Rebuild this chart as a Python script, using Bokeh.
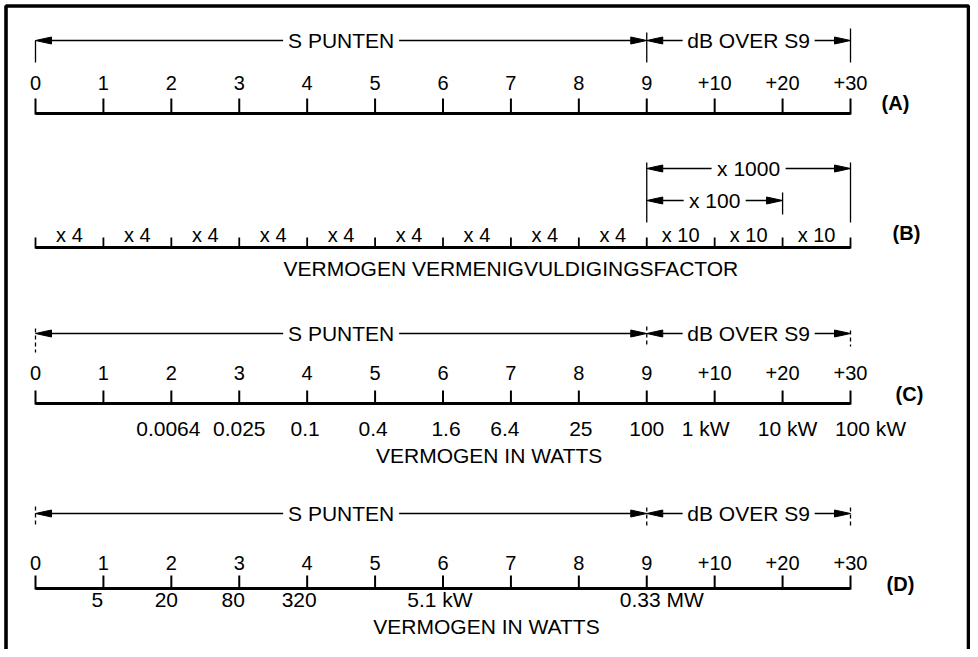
from bokeh.plotting import figure
from bokeh.models import ColumnDataSource, Range1d
from bokeh.core.properties import value
from bokeh.embed import file_html
from bokeh.resources import INLINE

# ---------------- data ----------------
S_STEPS = [0, 1, 2, 3, 4, 5, 6, 7, 8, 9, 10, 11, 12]
S_LABELS = ["0", "1", "2", "3", "4", "5", "6", "7", "8", "9", "+10", "+20", "+30"]
B_FACTORS = ["x 4", "x 4", "x 4", "x 4", "x 4", "x 4", "x 4", "x 4", "x 4",
             "x 10", "x 10", "x 10"]
C_WATT_STEPS = [2, 3, 4, 5, 6, 7, 8, 9, 10, 11, 12]
C_WATTS = ["0.0064", "0.025", "0.1", "0.4", "1.6", "6.4", "25", "100",
           "1 kW", "10 kW", "100 kW"]
D_WATT_STEPS = [1, 2, 3, 4, 6, 9]
D_WATTS = ["5", "20", "80", "320", "5.1 kW", "0.33 MW"]
S_SPAN = ("S PUNTEN", 0, 9)
DB_SPAN = ("dB OVER S9", 9, 12)
B_BRACKETS = [("x 1000", 9, 12), ("x 100", 9, 11)]
PANEL_TAGS = ["(A)", "(B)", "(C)", "(D)"]
CAPTION_B = "VERMOGEN VERMENIGVULDIGINGSFACTOR"
CAPTION_W = "VERMOGEN IN WATTS"

# ---------------- layout / style ----------------
FONT = "Liberation Sans"
W, H = 970, 649
PX0, PXS = 35.0, 67.917  # figure x of step 0, pixels per step
HL, HW = 16.0, 3.5       # arrow head length / half width (px)
F_LAB, F_NUM, F_CAP, F_TAG = "21px", "20px", "21px", "20px"


def px(d):
    return d / PXS


p = figure(width=W, height=H,
           x_range=Range1d(-PX0 / PXS, (W - PX0) / PXS),
           y_range=Range1d(H, 0),
           x_axis_type=None, y_axis_type=None,
           output_backend="svg", toolbar_location=None, min_border=0)
p.grid.visible = False
p.outline_line_color = None
p.background_fill_color = "white"
p.border_fill_color = "white"

# frame (left, top, right)
xl, xr, yt = px(5.5 - PX0), px(968.0 - PX0), 5.5
p.line([xl, xl, xr, xr], [H, yt, yt, H], line_color="black", line_width=3.6)

seg = dict(x0=[], y0=[], x1=[], y1=[], w=[])
heads = dict(xs=[], ys=[])


def add_seg(x0, y0, x1, y1, w):
    seg["x0"].append(x0); seg["y0"].append(y0)
    seg["x1"].append(x1); seg["y1"].append(y1); seg["w"].append(w)


def add_arrow(tail, tip, y):
    d = 1 if tip > tail else -1
    base = tip - d * px(HL)
    add_seg(tail, y, base, y, 1.5)
    heads["xs"].append([tip, base, base])
    heads["ys"].append([y, y - HW, y + HW])


texts = dict(x=[], y=[], t=[], xo=[], size=[], style=[])


def add_text(x, y, t, size=F_LAB, xo=0.0, style="normal"):
    texts["x"].append(x); texts["y"].append(y); texts["t"].append(t)
    texts["xo"].append(xo); texts["size"].append(size); texts["style"].append(style)


def span_arrows(label, a, b, y, half_px):
    c = (a + b) / 2.0
    add_text(c, y, label)
    add_arrow(c - px(half_px), a, y)
    add_arrow(c + px(half_px), b, y)


def scale_row(y_tick, y_base, y_num=None):
    add_seg(S_STEPS[0], y_base, S_STEPS[-1], y_base, 2.8)
    for s in S_STEPS:
        add_seg(s, y_tick, s, y_base + 1, 2.0)
    if y_num is not None:
        for s, lab in zip(S_STEPS, S_LABELS):
            add_text(s, y_num, lab, size=F_NUM)


vdash = dict(x0=[], y0=[], x1=[], y1=[])


def vline(s, y0, y1, dashed=False):
    if dashed:
        vdash["x0"].append(s); vdash["y0"].append(y0)
        vdash["x1"].append(s); vdash["y1"].append(y1)
    else:
        add_seg(s, y0, s, y1, 1.3)


# ---- panel A ----
span_arrows(S_SPAN[0], S_SPAN[1], S_SPAN[2], 40, 58)
span_arrows(DB_SPAN[0], DB_SPAN[1], DB_SPAN[2], 40, 66)
vline(S_SPAN[1], 40, 62); vline(S_SPAN[2], 32, 62); vline(DB_SPAN[2], 28, 62)
scale_row(98, 113, 82)

# ---- panel B ----
for (lab, a, b), yb, hp in zip(B_BRACKETS, [168, 200], [37, 31]):
    span_arrows(lab, a, b, yb, hp)
vline(B_BRACKETS[0][1], 162, 222); vline(B_BRACKETS[0][2], 162, 222)
vline(B_BRACKETS[1][2], 192, 214)
add_seg(S_STEPS[0], 247, S_STEPS[-1], 247, 2.8)
for s in S_STEPS:
    add_seg(s, 237, s, 248, 1.8)
for s, f in zip(S_STEPS[:-1], B_FACTORS):
    add_text(s + 0.5, 234, f, size=F_NUM)
add_text(7.0, 268, CAPTION_B, size=F_CAP)

# ---- panel C ----
span_arrows(S_SPAN[0], S_SPAN[1], S_SPAN[2], 333, 58)
span_arrows(DB_SPAN[0], DB_SPAN[1], DB_SPAN[2], 333, 66)
vline(S_SPAN[1], 328, 352, dashed=True)
vline(S_SPAN[2], 326, 346, dashed=True); vline(DB_SPAN[2], 330, 346, dashed=True)
scale_row(390, 403, 372)
C_XO = [-3, 0, -2, -2, 3, -6, 2, 0, -9, 5, 20]
for s, t, o in zip(C_WATT_STEPS, C_WATTS, C_XO):
    add_text(s, 428, t, size=F_CAP, xo=o)
add_text(6.68, 455, CAPTION_W, size=F_CAP)

# ---- panel D ----
span_arrows(S_SPAN[0], S_SPAN[1], S_SPAN[2], 513, 58)
span_arrows(DB_SPAN[0], DB_SPAN[1], DB_SPAN[2], 513, 66)
vline(S_SPAN[1], 506, 527, dashed=True)
vline(S_SPAN[2], 507, 526, dashed=True); vline(DB_SPAN[2], 507, 526, dashed=True)
scale_row(575, 588, 562)
D_XO = [-6, -5, -6, -8, -3, 15]
for s, t, o in zip(D_WATT_STEPS, D_WATTS, D_XO):
    add_text(s, 599, t, size=F_CAP, xo=o)
add_text(6.64, 626, CAPTION_W, size=F_CAP)

# ---- panel tags ----
for tag, ty, dx in zip(PANEL_TAGS, [102, 232, 393, 583], [45, 56, 59, 50]):
    add_text(S_STEPS[-1] + px(dx), ty, tag, size=F_TAG, style="bold")

# ---------------- render ----------------
p.segment(x0="x0", y0="y0", x1="x1", y1="y1", line_width="w", line_color="black",
          source=ColumnDataSource(seg))
p.segment(x0="x0", y0="y0", x1="x1", y1="y1", line_width=1.3, line_color="black",
          line_dash="4 3", source=ColumnDataSource(vdash))
p.patches(xs="xs", ys="ys", fill_color="black", line_color="black", line_width=1,
          source=ColumnDataSource(heads))
p.text(x="x", y="y", text="t", x_offset="xo", text_font_size="size",
       text_font_style="style", source=ColumnDataSource(texts),
       text_font=value(FONT), text_color="black",
       text_align="center", text_baseline="middle")

open("out.html", "w").write(file_html(p, INLINE))
